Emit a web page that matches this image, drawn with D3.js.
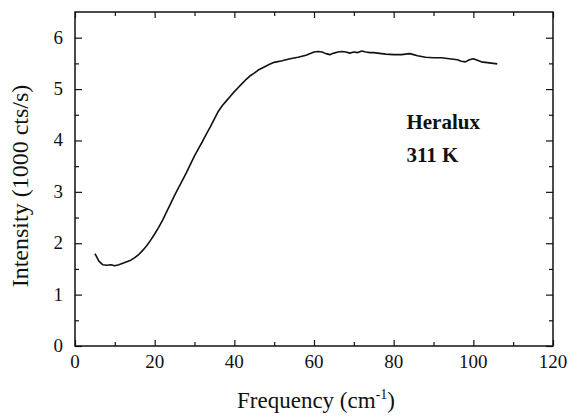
<!DOCTYPE html>
<html>
<head>
<meta charset="utf-8">
<script src="https://cdn.jsdelivr.net/npm/d3@7"></script>
<style>
  body { margin: 0; background: #fff; }
  svg text { font-family: "Liberation Serif", "Times New Roman", serif; fill: #111; }
</style>
</head>
<body>
<div id="chart"></div>
<script>
// spectrum
const freq = [5, 6, 7, 8, 9, 10, 11, 12, 13, 14, 15, 16, 17, 18, 19, 20, 21, 22, 23, 24, 25,
  26, 27, 28, 29, 30, 31, 32, 33, 34, 35, 36, 37, 38, 39, 40, 41, 42, 43, 44, 45, 46, 47, 48, 49, 50,
  52, 54, 56, 58, 60, 61, 62, 63, 64, 65, 66, 67, 68, 69, 70, 71, 72, 73, 74, 75, 76, 78, 80, 82,
  84, 85, 86, 88, 90, 92, 94, 96, 97, 98, 99, 100, 101, 102, 104, 106];
const intensity = [1.80, 1.65, 1.58, 1.57, 1.58, 1.56, 1.58, 1.61, 1.64, 1.67, 1.72, 1.78, 1.86, 1.95, 2.06,
  2.18, 2.31, 2.45, 2.61, 2.77, 2.93, 3.08, 3.23, 3.38, 3.54, 3.70, 3.84, 3.98, 4.13, 4.27, 4.42, 4.57, 4.68,
  4.77, 4.86, 4.95, 5.03, 5.11, 5.19, 5.26, 5.31, 5.37, 5.41, 5.45, 5.49, 5.52,
  5.55, 5.59, 5.62, 5.66, 5.72, 5.73, 5.72, 5.69, 5.67, 5.70, 5.72, 5.73, 5.72, 5.70, 5.72, 5.71, 5.74,
  5.72, 5.71, 5.71, 5.70, 5.68, 5.67, 5.67, 5.69, 5.67, 5.65, 5.62, 5.61, 5.61, 5.59, 5.57, 5.54, 5.53,
  5.57, 5.59, 5.56, 5.53, 5.51, 5.49];

const xTicks = [0, 20, 40, 60, 80, 100, 120];
const xMinor = [10, 30, 50, 70, 90, 110];
const yTicks = [0, 1, 2, 3, 4, 5, 6];
const yMinor = [0.5, 1.5, 2.5, 3.5, 4.5, 5.5];
const labelLines = ["Heralux", "311 K"];

const width = 569, height = 416;
const margin = {top: 12, right: 16, bottom: 70, left: 75};

const svg = d3.select("#chart").append("svg")
  .attr("width", width)
  .attr("height", height);

const x = d3.scaleLinear().domain([0, 120]).range([margin.left, width - margin.right]);
const y = d3.scaleLinear().domain([0, 6.5]).range([height - margin.bottom, margin.top]);

const x0 = x.range()[0], x1 = x.range()[1];
const yb = y.range()[0], yt = y.range()[1];

// ticks pointing inwards on all four sides
function tickAxis(axisFn, scale, ticks, len) {
  return axisFn(scale).tickValues(ticks).tickSize(len).tickFormat("");
}

function drawAxis(g, axis) {
  g.call(axis);
  g.select(".domain").remove();
  g.selectAll("line").attr("stroke", "#111").attr("stroke-width", 1.2);
}

// bottom
drawAxis(svg.append("g").attr("transform", `translate(0,${yb})`),
  tickAxis(d3.axisTop, x, xTicks, 6));
drawAxis(svg.append("g").attr("transform", `translate(0,${yb})`),
  tickAxis(d3.axisTop, x, xMinor, 4));
svg.append("g").selectAll("text").data(xTicks).join("text")
  .attr("x", d => x(d)).attr("y", yb + 22)
  .attr("text-anchor", "middle").attr("font-size", 19)
  .text(d => d);

// top
drawAxis(svg.append("g").attr("transform", `translate(0,${yt})`),
  tickAxis(d3.axisBottom, x, xTicks, 6));
drawAxis(svg.append("g").attr("transform", `translate(0,${yt})`),
  tickAxis(d3.axisBottom, x, xMinor, 4));

// left
drawAxis(svg.append("g").attr("transform", `translate(${x0},0)`),
  tickAxis(d3.axisRight, y, yTicks, 7));
drawAxis(svg.append("g").attr("transform", `translate(${x0},0)`),
  tickAxis(d3.axisRight, y, yMinor, 4));
svg.append("g").selectAll("text").data(yTicks).join("text")
  .attr("x", x0 - 12).attr("y", d => y(d) + 6)
  .attr("text-anchor", "end").attr("font-size", 19)
  .text(d => d);

// right
drawAxis(svg.append("g").attr("transform", `translate(${x1},0)`),
  tickAxis(d3.axisLeft, y, yTicks, 7));
drawAxis(svg.append("g").attr("transform", `translate(${x1},0)`),
  tickAxis(d3.axisLeft, y, yMinor, 4));

// frame
svg.append("rect")
  .attr("x", x0).attr("y", yt)
  .attr("width", x1 - x0).attr("height", yb - yt)
  .attr("fill", "none").attr("stroke", "#111").attr("stroke-width", 1.5);

// curve
const pts = freq.map((f, i) => [f, intensity[i]]);
svg.append("path")
  .datum(pts)
  .attr("fill", "none")
  .attr("stroke", "#111")
  .attr("stroke-width", 1.6)
  .attr("stroke-linejoin", "round")
  .attr("d", d3.line().x(d => x(d[0])).y(d => y(d[1])));

// annotation
svg.append("g").selectAll("text").data(labelLines).join("text")
  .attr("x", x(83.2)).attr("y", (d, i) => 129 + i * 33)
  .attr("font-size", 21).attr("font-weight", "bold")
  .text(d => d);

// axis titles
const xt = svg.append("text")
  .attr("x", (x0 + x1) / 2 + 2).attr("y", 408)
  .attr("text-anchor", "middle").attr("font-size", 23);
xt.append("tspan").text("Frequency (cm");
xt.append("tspan").attr("dy", -9).attr("font-size", 14).text("-1");
xt.append("tspan").attr("dy", 9).text(")");

svg.append("text")
  .attr("transform", `translate(28,186) rotate(-90)`)
  .attr("text-anchor", "middle").attr("font-size", 24)
  .text("Intensity (1000 cts/s)");
</script>
</body>
</html>
